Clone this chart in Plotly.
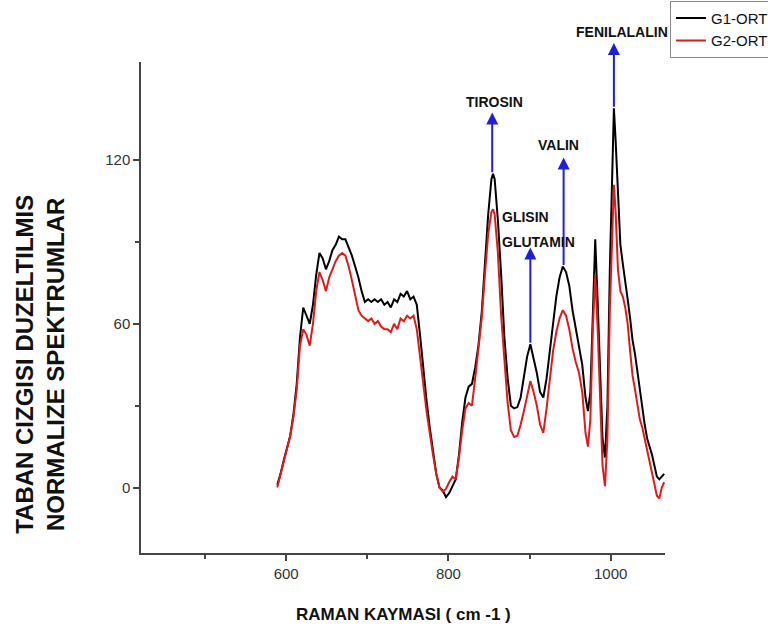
import plotly.graph_objects as go

# Raman shift (cm-1)
raman_shift = [589, 593, 597, 601, 605, 609, 613, 617, 621, 625, 629, 633, 637, 641, 645, 649, 653, 657, 661, 665,
               669, 673, 677, 681, 685, 689, 693, 697, 701, 705, 709, 713, 717, 721, 725, 729, 733, 737, 741, 745,
               749, 753, 757, 761, 765, 769, 773, 777, 781, 785, 789, 793, 797, 801, 805, 809, 813, 817, 821, 825,
               829, 833, 837, 841, 845, 849, 853, 855, 857, 861, 865, 869, 873, 877, 881, 885, 889, 893, 897, 901,
               905, 909, 913, 917, 921, 925, 929, 933, 937, 941, 945, 949, 953, 957, 961, 965, 969, 972, 975, 978,
               981, 984, 987, 990, 993, 996, 999, 1002, 1004, 1006, 1009, 1012, 1015, 1018, 1021, 1024, 1027, 1030,
               1033, 1036, 1039, 1042, 1045, 1048, 1051, 1054, 1057, 1060, 1063, 1066]

g1_ort = [1, 5, 10, 15, 19, 27, 38, 55, 66, 63, 60, 67, 78, 86, 84, 80, 83, 87, 89, 92,
          91, 91, 88, 85, 81, 77, 72, 68, 69, 68, 69, 68, 69, 67, 68, 66, 69, 68, 71, 70,
          72, 69, 70, 67, 56, 43, 32, 22, 14, 5, 0, -1, -3.5, -2, 0.5, 3, 12, 24, 33, 37,
          38, 44, 52, 64, 82, 100, 113, 115, 113, 98, 78, 55, 40, 30, 29, 29.5, 33, 40, 48, 52.5,
          47, 42, 35, 33, 40, 50, 60, 70, 77, 81, 79, 74, 65, 58, 52, 45, 33, 28, 35, 68,
          91, 68, 40, 18, 11, 30, 80, 120, 139, 128, 105, 89, 82, 76, 69, 62, 54, 49,
          42, 35, 29, 23, 18, 15, 12, 8, 4, 3, 4, 5]

g2_ort = [0, 5, 10, 14, 19, 26, 36, 52, 58, 56, 52, 60, 72, 79, 76, 72, 77, 80, 83, 85,
          86, 85, 81, 76, 70, 65, 63, 62, 61, 62, 60, 61, 59, 58, 58, 57, 60, 58, 62, 61,
          63, 62, 63, 58, 47, 38, 28, 19, 12, 5, 0, -1.5, -0.5, 2, 4, 3, 11, 21, 29, 31,
          30, 40, 50, 62, 78, 93, 101, 102, 100, 86, 63, 45, 31, 21, 18.5, 19, 23, 28, 34, 39,
          35, 30, 23, 20, 29, 40, 50, 57, 62, 65, 63, 58, 51, 46, 42, 35, 20, 15, 25, 58,
          78, 58, 30, 8, 0.5, 18, 65, 98, 111, 102, 80, 72, 70, 66, 60, 50, 41, 36,
          31, 25, 22, 18, 14, 10, 6, 2, -3, -4, 0, 2]

series_names = ["G1-ORT", "G2-ORT"]

# Peak markers: position (cm-1), peak tail value, arrow head value
peak_x = [854, 901, 942, 1004]
peak_tail = [115, 52.5, 81, 139]
peak_head = [137.5, 88, 121, 163]

x_ticks = [600, 800, 1000]
y_ticks = [0, 60, 120]

FONT = "Liberation Sans, Arial, sans-serif"

fig = go.Figure()
fig.add_trace(go.Scatter(x=raman_shift, y=g1_ort, mode="lines", name=series_names[0],
                         line=dict(color="#000000", width=2)))
fig.add_trace(go.Scatter(x=raman_shift, y=g2_ort, mode="lines", name=series_names[1],
                         line=dict(color="#e01a1a", width=2)))

# arrows
for px, tail, head in zip(peak_x, peak_tail, peak_head):
    fig.add_annotation(x=px, y=head, ax=px, ay=tail, xref="x", yref="y", axref="x", ayref="y",
                       text="", showarrow=True, arrowhead=2, arrowsize=1.2, arrowwidth=2,
                       arrowcolor="#1f1fd6", standoff=0, startstandoff=0)

lab_font = dict(family=FONT, size=14, color="#111111")
fig.add_annotation(x=857, y=141.5, xref="x", yref="y", text="<b>TIROSIN</b>", showarrow=False, font=lab_font,
                   yanchor="middle")
fig.add_annotation(x=863, y=99, xref="x", yref="y", text="<b>GLISIN</b>", showarrow=False,
                   font=lab_font, xanchor="left", yanchor="middle")
fig.add_annotation(x=863, y=90, xref="x", yref="y", text="<b>GLUTAMIN</b>", showarrow=False,
                   font=lab_font, xanchor="left", yanchor="middle")
fig.add_annotation(x=936, y=125.6, xref="x", yref="y", text="<b>VALIN</b>", showarrow=False, font=lab_font,
                   yanchor="middle")
fig.add_annotation(x=1013.5, y=1.061, xref="x", yref="paper", text="<b>FENILALALIN</b>", showarrow=False,
                   font=lab_font, yanchor="middle")

# y title (two lines)
fig.add_annotation(x=-0.193, y=0.385, xref="paper", yref="paper", textangle=-90,
                   xanchor="center", yanchor="middle",
                   text="<b>TABAN CIZGISI DUZELTILMIS<br>NORMALIZE SPEKTRUMLAR</b>",
                   showarrow=False, font=dict(family=FONT, size=24, color="#111111"))
# x title
fig.add_annotation(x=0.5, y=-0.126, xref="paper", yref="paper", xanchor="center", yanchor="middle",
                   text="<b>RAMAN KAYMASI ( cm -1 )</b>", showarrow=False,
                   font=dict(family=FONT, size=17, color="#111111"))

axis_common = dict(showline=True, linecolor="#444444", linewidth=1.5, ticks="outside",
                   ticklen=6, tickwidth=1.5, tickcolor="#444444", showgrid=False, zeroline=False,
                   tickfont=dict(family=FONT, size=15, color="#333333"), mirror=False)

fig.update_xaxes(range=[421, 1067], tickvals=x_ticks,
                 minor=dict(tickvals=[500, 700, 900], ticklen=4, tickwidth=1.5, tickcolor="#444444", ticks="outside"),
                 **axis_common)
fig.update_yaxes(range=[-24, 156], tickvals=y_ticks,
                 minor=dict(tickvals=[30, 90], ticklen=4, tickwidth=1.5, tickcolor="#444444", ticks="outside"),
                 **axis_common)

fig.update_layout(
    width=768, height=635,
    margin=dict(l=141, r=103, t=62, b=82, autoexpand=False),
    paper_bgcolor="white", plot_bgcolor="white",
    showlegend=True,
    legend=dict(x=1.0095, y=1.125, xanchor="left", yanchor="top",
                bordercolor="#888888", borderwidth=1, bgcolor="white",
                font=dict(family=FONT, size=15, color="#111111"),
                tracegroupgap=0, itemwidth=30),
    font=dict(family=FONT),
)

fig.write_html("out.html")
